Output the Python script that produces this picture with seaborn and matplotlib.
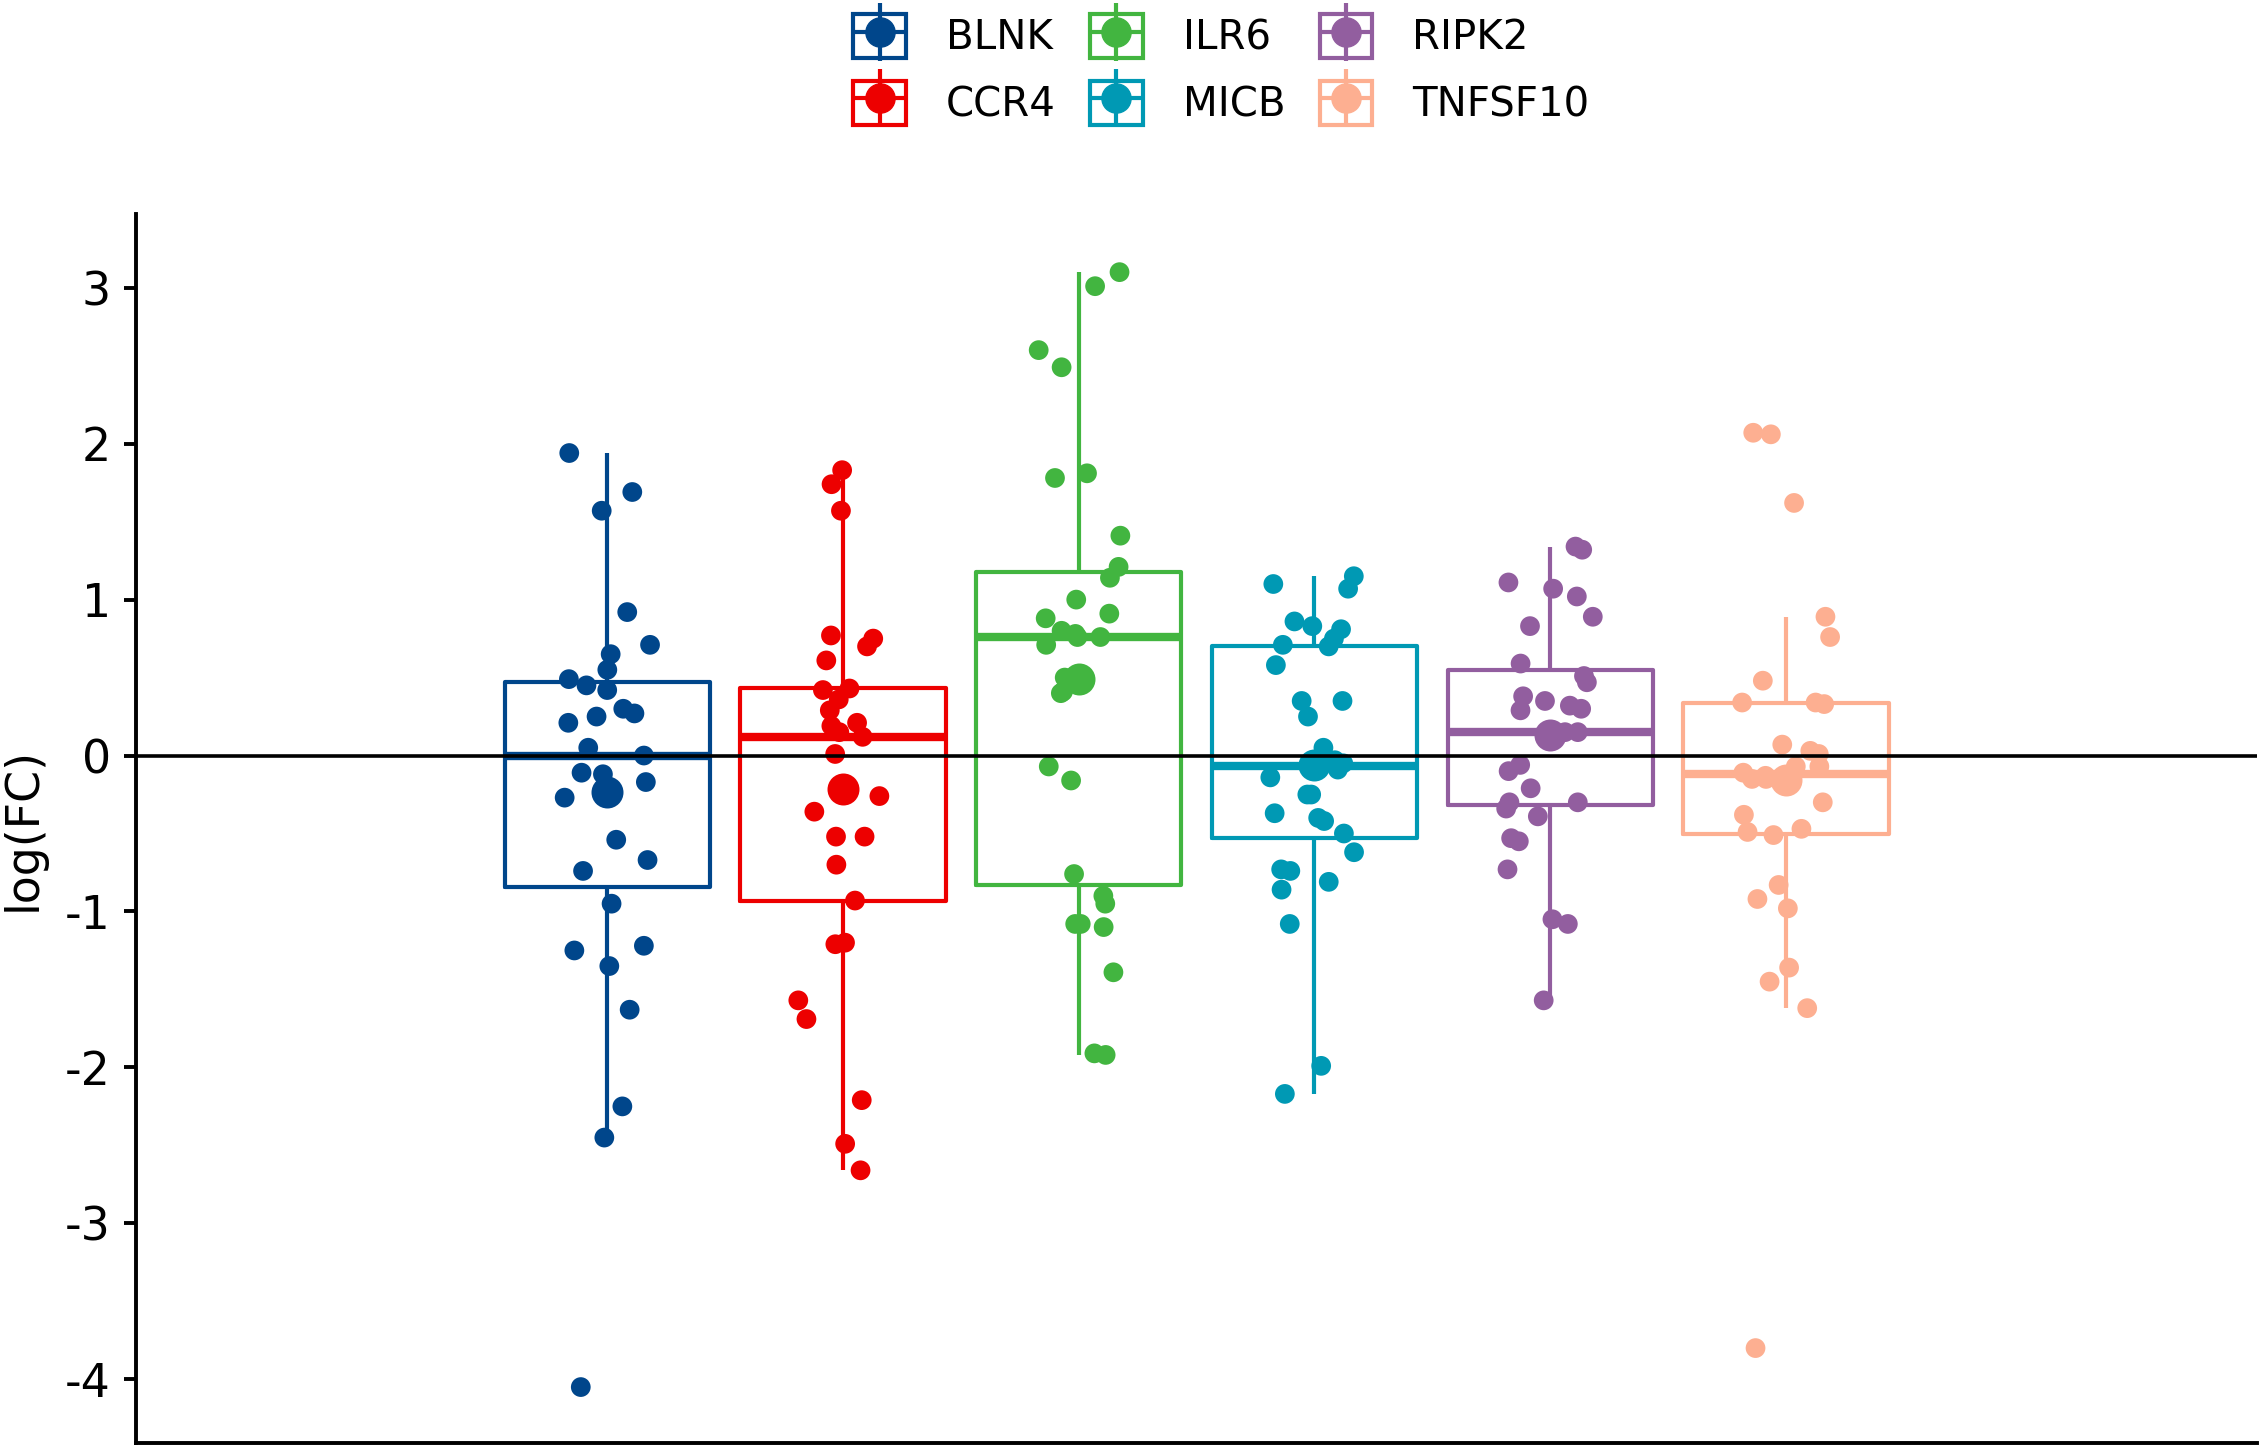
"""Boxplot + jitter of log fold change per gene, with group means."""

import numpy as np
import pandas as pd
import matplotlib
matplotlib.use("Agg")
import matplotlib.pyplot as plt
import matplotlib.patches as mpatches
from matplotlib.lines import Line2D
from matplotlib.legend_handler import HandlerTuple
import seaborn as sns

# Data
genes = ["BLNK", "CCR4", "ILR6", "MICB", "RIPK2", "TNFSF10"]
colors = ["#00468B", "#ED0000", "#42B540", "#0099B4", "#925E9F", "#FDAF91"]

BLNK = [1.94, 1.69, 1.57, 0.92, 0.71, 0.65, 0.55, 0.49, 0.45, 0.42, 0.30, 0.27,
        0.25, 0.21, 0.05, 0.00, -0.11, -0.12, -0.17, -0.27, -0.54, -0.67, -0.74,
        -0.95, -1.22, -1.25, -1.35, -1.63, -2.25, -2.45, -4.05]
CCR4 = [1.83, 1.74, 1.57, 0.77, 0.75, 0.70, 0.61, 0.43, 0.42, 0.36, 0.29, 0.21,
        0.19, 0.15, 0.12, 0.01, -0.26, -0.36, -0.52, -0.52, -0.70, -0.93, -1.20,
        -1.21, -1.57, -1.69, -2.21, -2.49, -2.66]
ILR6 = [3.10, 3.01, 2.60, 2.49, 1.81, 1.78, 1.41, 1.21, 1.14, 1.00, 0.91, 0.88,
        0.80, 0.78, 0.76, 0.76, 0.71, 0.50, 0.41, 0.40, -0.07, -0.16, -0.76,
        -0.90, -0.95, -1.08, -1.08, -1.10, -1.39, -1.91, -1.92]
MICB = [1.15, 1.10, 1.07, 0.86, 0.83, 0.81, 0.75, 0.71, 0.70, 0.58, 0.35, 0.35,
        0.25, 0.05, -0.03, -0.05, -0.09, -0.14, -0.25, -0.25, -0.37, -0.40, -0.42,
        -0.50, -0.62, -0.73, -0.74, -0.81, -0.86, -1.08, -1.99, -2.17]
RIPK2 = [1.34, 1.32, 1.11, 1.07, 1.02, 0.89, 0.83, 0.59, 0.51, 0.47, 0.38, 0.35,
         0.32, 0.30, 0.29, 0.15, 0.15, 0.13, -0.06, -0.10, -0.21, -0.30, -0.30,
         -0.34, -0.39, -0.53, -0.55, -0.73, -1.05, -1.08, -1.57]
TNFSF10 = [2.07, 2.06, 1.62, 0.89, 0.76, 0.48, 0.34, 0.34, 0.33, 0.07, 0.03, 0.01,
           -0.07, -0.07, -0.11, -0.13, -0.15, -0.15, -0.30, -0.38, -0.47, -0.49,
           -0.51, -0.83, -0.92, -0.98, -1.36, -1.45, -1.62, -3.80]

yticks = [-4, -3, -2, -1, 0, 1, 2, 3]

values = [BLNK, CCR4, ILR6, MICB, RIPK2, TNFSF10]
df = pd.DataFrame({
    "gene": np.repeat(genes, [len(v) for v in values]),
    "logFC": np.concatenate(values),
})
palette = dict(zip(genes, colors))

sns.set_style("ticks", rc={
    "axes.edgecolor": "black", "text.color": "black",
    "axes.labelcolor": "black", "xtick.color": "black", "ytick.color": "black",
})
plt.rcParams["font.family"] = ["DejaVu Sans"]

fig = plt.figure(figsize=(22.62, 14.49), dpi=100)
ax = fig.add_axes([0.060, 0.004, 0.938, 0.848])

sns.boxplot(
    data=df, x="gene", y="logFC", hue="gene", order=genes, hue_order=genes,
    palette=palette, fill=False, width=0.87, linewidth=3.0,
    showcaps=False, showfliers=False, legend=False,
    medianprops={"linewidth": 6}, ax=ax,
)

np.random.seed(7)
sns.stripplot(
    data=df, x="gene", y="logFC", hue="gene", order=genes, hue_order=genes,
    palette=palette, jitter=0.19, size=14.2, linewidth=0, alpha=1,
    legend=False, zorder=3, ax=ax,
)

sns.pointplot(
    data=df, x="gene", y="logFC", hue="gene", order=genes, hue_order=genes,
    palette=palette, estimator="mean", errorbar=None, linestyle="none",
    markers="o", markersize=21, legend=False, zorder=4, ax=ax,
)

ax.axhline(0, color="black", linewidth=2.6, zorder=5)

ax.set_xlim(-2, 7)
ax.set_ylim(-4.41, 3.47)
ax.set_yticks(yticks)
ax.set_yticklabels([str(t) for t in yticks])
ax.set_xticks([])
ax.set_xlabel("")
ax.set_ylabel("log(FC)", fontsize=33, labelpad=14)
ax.tick_params(axis="y", labelsize=33, length=9, width=2.8, pad=9)
for side in ["top", "right"]:
    ax.spines[side].set_visible(False)
for side in ["left", "bottom"]:
    ax.spines[side].set_linewidth(2.8)

# ggplot-style combined legend keys (box + whisker + mean dot overlaid)
handles = []
for c in colors:
    box = mpatches.Patch(facecolor="white", edgecolor=c, linewidth=3.0)
    hline = Line2D([], [], color=c, linewidth=3.0)
    vline = Line2D([], [], color=c, marker="|", markersize=42,
                   markeredgewidth=3.0, linestyle="None")
    dot = Line2D([], [], color=c, marker="o", markersize=21, linestyle="None")
    handles.append((box, hline, vline, dot))

fig.legend(
    handles, genes, handler_map={tuple: HandlerTuple(ndivide=1, pad=0)},
    ncol=3, loc="center", bbox_to_anchor=(0.540, 0.952), frameon=False,
    fontsize=29, handlelength=1.3, handleheight=1.3, handletextpad=1.0,
    columnspacing=0.85, labelspacing=0.55, numpoints=1,
)

fig.savefig("out.png", dpi=100)
plt.close(fig)
